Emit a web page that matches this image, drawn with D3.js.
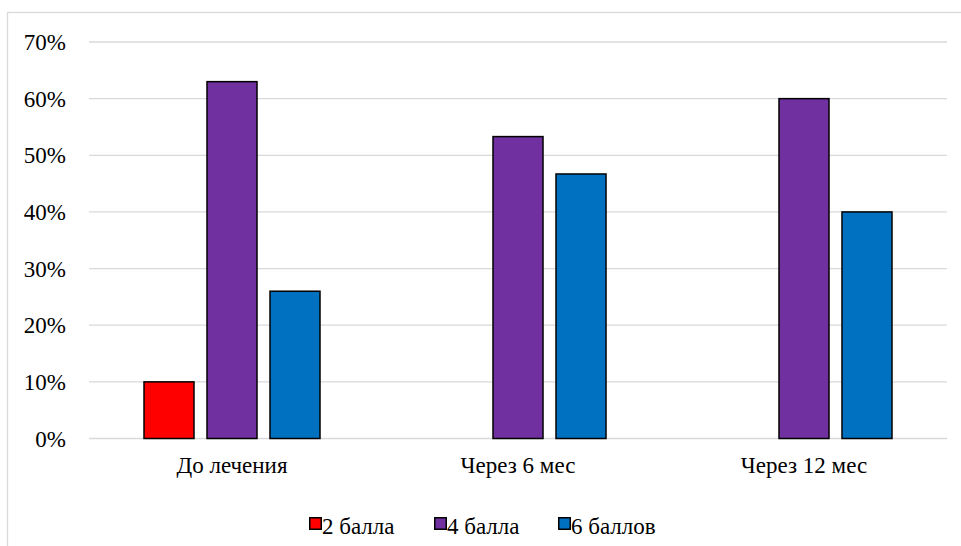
<!DOCTYPE html>
<html>
<head>
<meta charset="utf-8">
<script src="https://cdn.jsdelivr.net/npm/d3@7"></script>
<style>
  html, body { margin: 0; padding: 0; background: #ffffff; }
  svg { display: block; }
</style>
</head>
<body>
<svg id="chart" width="961" height="546"></svg>
<script>
// Share of patients by score, at each follow-up point
const categories = ["До лечения", "Через 6 мес", "Через 12 мес"];
const seriesNames = ["2 балла", "4 балла", "6 баллов"];
const seriesColors = ["#FF0000", "#7030A0", "#0070C0"];
const score2 = [10, 0, 0];
const score4 = [63, 53.3, 60];
const score6 = [26, 46.7, 40];
const yTicks = [0, 10, 20, 30, 40, 50, 60, 70];

const seriesValues = [score2, score4, score6];

// text is set at 20px and enlarged by a transform to an effective 23px
const FONT = "Liberation Serif";
const FONT_SIZE = "20px";
const TEXT_SCALE = 1.15;

const svg = d3.select("#chart");
const W = 961, H = 546;

// chart frame
svg.append("rect")
  .attr("x", 7.5).attr("y", 12.5)
  .attr("width", W + 10).attr("height", H + 10)
  .attr("fill", "#fff")
  .attr("stroke", "#d9d9d9").attr("stroke-width", 1.3);

const plot = { left: 89, right: 947, top: 42, bottom: 438.5 };

const x0 = d3.scaleBand()
  .domain(categories)
  .range([plot.left, plot.right])
  .paddingInner(0).paddingOuter(0);

const x1 = d3.scaleBand()
  .domain(seriesNames)
  .range([-88, 88])
  .paddingInner(13 / 63).paddingOuter(0);

const y = d3.scaleLinear()
  .domain([0, 70])
  .range([plot.bottom, plot.top]);

// gridlines
svg.append("g")
  .selectAll("line")
  .data(yTicks)
  .join("line")
  .attr("x1", plot.left).attr("x2", plot.right)
  .attr("y1", d => y(d)).attr("y2", d => y(d))
  .attr("stroke", "#d9d9d9").attr("stroke-width", 1.3);

// y axis labels
const yAxis = d3.axisLeft(y)
  .tickValues(yTicks)
  .tickFormat(d => d + "%")
  .tickSize(0)
  .tickPadding(0);

const yg = svg.append("g")
  .attr("transform", `translate(66,0)`)
  .call(yAxis)
  .call(g => g.select(".domain").remove());
yg.attr("font-family", null).attr("font-size", null);
yg.selectAll("text")
  .style("font-family", FONT)
  .style("font-size", FONT_SIZE)
  .attr("x", 0)
  .attr("dy", "0.33em")
  .attr("transform", `scale(${TEXT_SCALE})`)
  .attr("fill", "#000");

// bars
const groups = svg.append("g")
  .selectAll("g")
  .data(categories)
  .join("g")
  .attr("transform", d => `translate(${x0(d) + x0.bandwidth() / 2},0)`);

groups.selectAll("rect")
  .data((c, ci) => seriesNames.map((s, si) => ({ s, si, v: seriesValues[si][ci] })).filter(d => d.v > 0))
  .join("rect")
  .attr("x", d => x1(d.s))
  .attr("width", x1.bandwidth())
  .attr("y", d => y(d.v))
  .attr("height", d => y(0) - y(d.v))
  .attr("fill", d => seriesColors[d.si])
  .attr("stroke", "#000")
  .attr("stroke-width", 1.5);

// category labels
const xAxis = d3.axisBottom(x0).tickSize(0).tickPadding(0);
const xg = svg.append("g")
  .attr("transform", `translate(0,473)`)
  .call(xAxis)
  .call(g => g.select(".domain").remove());
xg.attr("font-family", null).attr("font-size", null);
xg.selectAll("text")
  .style("font-family", FONT)
  .style("font-size", FONT_SIZE)
  .attr("y", 0)
  .attr("dy", 0)
  .attr("transform", `scale(${TEXT_SCALE})`)
  .attr("fill", "#000");

// legend
const legendX = [309, 434, 558];
const legend = svg.append("g")
  .selectAll("g")
  .data(seriesNames)
  .join("g")
  .attr("transform", (d, i) => `translate(${legendX[i]},517)`);

legend.append("rect")
  .attr("x", 0.75).attr("y", 0.75)
  .attr("width", 11.5).attr("height", 11.5)
  .attr("fill", (d, i) => seriesColors[i])
  .attr("stroke", "#000").attr("stroke-width", 1.5);

legend.append("text")
  .attr("transform", `translate(13,17) scale(${TEXT_SCALE})`)
  .style("font-family", FONT)
  .style("font-size", FONT_SIZE)
  .attr("fill", "#000")
  .text(d => d);
</script>
</body>
</html>
